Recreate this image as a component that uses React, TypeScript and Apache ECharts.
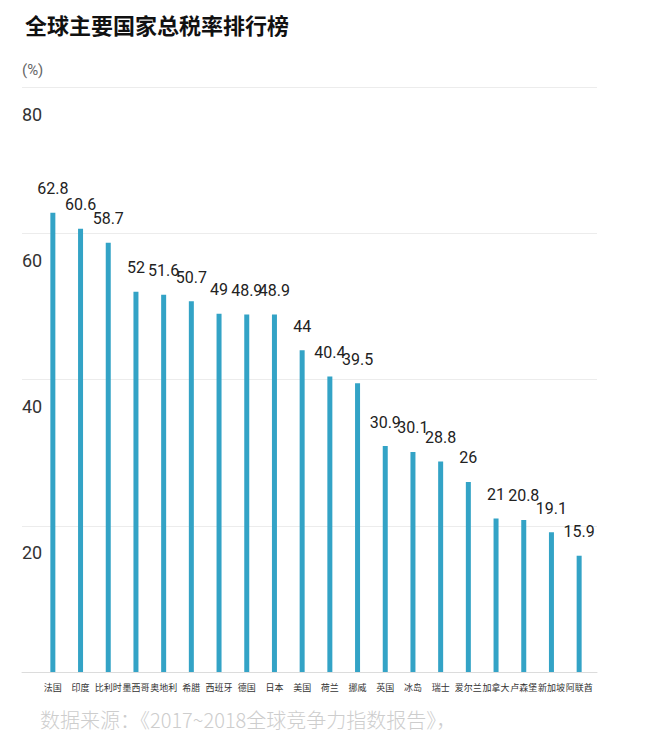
import React, { useEffect, useRef } from "react";
import * as echarts from "echarts";

const countries = ["法国", "印度", "比利时", "墨西哥", "奥地利", "希腊", "西班牙", "德国", "日本", "美国", "荷兰", "挪威", "英国", "冰岛", "瑞士", "爱尔兰", "加拿大", "卢森堡", "新加坡", "阿联酋"];
const taxRates = [62.8, 60.6, 58.7, 52, 51.6, 50.7, 49, 48.9, 48.9, 44, 40.4, 39.5, 30.9, 30.1, 28.8, 26, 21, 20.8, 19.1, 15.9];
const yTicks = { min: 0, max: 80, interval: 20 };
const titleText = "全球主要国家总税率排行榜";
const unitText = "(%)";
const sourceText = "数据来源：《2017~2018全球竞争力指数报告》，";

export default function App() {
  const ref = useRef<HTMLDivElement>(null);
  useEffect(() => {
    document.body.style.margin = "0";
    const chart = echarts.init(ref.current!, null, { renderer: "svg" });
    const cjk = "'Noto Sans CJK SC', 'Noto Sans', sans-serif";
    const num = "Roboto, 'Liberation Sans', Arial, sans-serif";
    chart.setOption({
      animation: false,
      backgroundColor: "#ffffff",
      title: {
        text: titleText,
        left: 20,
        top: 8,
        textStyle: { fontSize: 22, fontWeight: "bold", color: "#111", fontFamily: cjk },
      },
      graphic: [
        {
          type: "text",
          left: 22,
          top: 62,
          style: { text: unitText, fontSize: 15, fill: "#666", fontFamily: num },
        },
        {
          type: "text",
          left: 40,
          top: 709,
          style: { text: sourceText, fontSize: 20, fontWeight: 300, fill: "#cdcdcd", fontFamily: cjk },
        },
      ],
      grid: [
        { left: 39, right: 52, top: 87, bottom: 71 },
        { left: 22, right: 48, top: 87, bottom: 71 },
      ],
      xAxis: [
        {
          type: "category",
          gridIndex: 0,
          data: countries,
          axisLine: { show: false },
          axisTick: { show: false },
          axisLabel: { interval: 0, fontSize: 9, color: "#333", margin: 11, fontFamily: cjk },
        },
        {
          type: "value",
          gridIndex: 1,
          show: true,
          axisLine: { show: true, lineStyle: { color: "#dcdcdc", width: 1 } },
          axisTick: { show: false },
          axisLabel: { show: false },
          splitLine: { show: false },
        },
      ],
      yAxis: [
        {
          type: "value",
          gridIndex: 0,
          min: yTicks.min,
          max: yTicks.max,
          interval: yTicks.interval,
          axisLine: { show: false },
          axisTick: { show: false },
          axisLabel: { show: false },
          splitLine: { show: false },
        },
        {
          type: "value",
          gridIndex: 1,
          min: yTicks.min,
          max: yTicks.max,
          interval: yTicks.interval,
          axisLine: { show: false },
          axisTick: { show: false },
          splitLine: { show: true, lineStyle: { color: "#ececec", width: 1 } },
          axisLabel: {
            inside: true,
            margin: 0,
            align: "left",
            verticalAlign: "top",
            lineHeight: 54,
            fontSize: 18,
            color: "#333",
            fontFamily: num,
            formatter: (v: number) => (v === 0 ? "" : String(v)),
          },
        },
      ],
      series: [
        {
          type: "bar",
          xAxisIndex: 0,
          yAxisIndex: 0,
          data: taxRates,
          barWidth: 5,
          itemStyle: { color: "#33a3c6" },
          label: {
            show: true,
            position: "top",
            distance: 16,
            fontSize: 16,
            color: "#222",
            fontFamily: num,
          },
        },
      ],
    });
    return () => chart.dispose();
  }, []);
  return <div ref={ref} style={{ width: 645, height: 743 }} />;
}
